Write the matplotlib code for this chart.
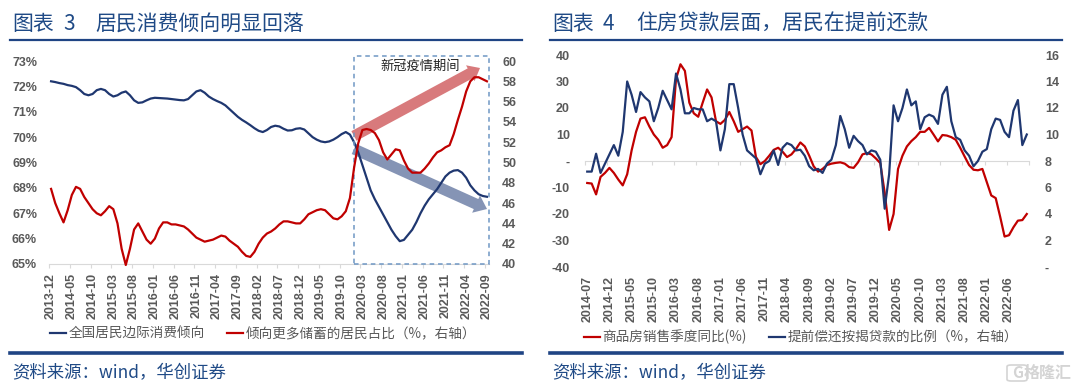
import matplotlib
matplotlib.use('Agg')
import matplotlib.pyplot as plt
from matplotlib.patches import FancyArrow, Rectangle, FancyBboxPatch
from matplotlib.transforms import IdentityTransform
from matplotlib.lines import Line2D

plt.rcParams['font.family'] = ['Noto Sans CJK SC', 'DejaVu Sans']

W, H = 1080, 389
NAVY = '#1F3770'
RED = '#C00000'
GREY = '#595959'
TITLE = '#1F4A86'

# left chart, monthly 2013-12 .. 2022-09
consume = [72.2, 72.17, 72.13, 72.1, 72.05, 72.02, 71.97, 71.85, 71.7, 71.65,
           71.7, 71.85, 71.9, 71.85, 71.7, 71.6, 71.65, 71.75, 71.8, 71.65,
           71.45, 71.35, 71.37, 71.45, 71.52, 71.55, 71.54, 71.53, 71.52, 71.5,
           71.48, 71.46, 71.45, 71.5, 71.65, 71.8, 71.85, 71.75, 71.6, 71.5,
           71.42, 71.35, 71.25, 71.1, 70.95, 70.8, 70.68, 70.58, 70.47, 70.35,
           70.25, 70.2, 70.28, 70.4, 70.45, 70.42, 70.33, 70.26, 70.27, 70.33,
           70.35, 70.3, 70.15, 70.0, 69.9, 69.83, 69.8, 69.83, 69.9, 70.0,
           70.12, 70.2, 70.1, 69.8, 69.4, 68.9, 68.4, 67.9, 67.55, 67.25,
           66.95, 66.65, 66.35, 66.1, 65.9, 65.95, 66.15, 66.35, 66.65, 67.0,
           67.3, 67.55, 67.75, 67.95, 68.2, 68.45, 68.6, 68.68, 68.7, 68.6,
           68.4, 68.1, 67.9, 67.75, 67.68, 67.65]
savers = [47.4, 46, 45, 44.1, 45.3, 46.8, 47.6, 47.4, 46.6, 46,
          45.4, 45, 44.8, 45.2, 45.7, 45.4, 44, 41.5, 39.9, 41.5,
          43.4, 44, 43.2, 42.4, 42, 42.5, 43.5, 44.1, 44.1, 43.9,
          43.9, 43.8, 43.7, 43.4, 43, 42.6, 42.4, 42.2, 42.3, 42.4,
          42.6, 42.8, 42.7, 42.3, 42, 41.7, 41.2, 40.8, 40.7, 41.2,
          42, 42.6, 43, 43.2, 43.5, 43.9, 44.2, 44.2, 44.1, 44,
          44, 44.4, 44.9, 45.1, 45.3, 45.4, 45.3, 44.9, 44.5, 44.4,
          44.7, 45.2, 46.5, 49.5, 51.9, 53.2, 53.3, 53.2, 52.9, 52.2,
          51, 50.3, 50.8, 51.3, 51.2, 50.2, 49.4, 49, 49, 49,
          49.4, 49.9, 50.5, 51, 51.2, 51.5, 51.7, 52.8, 54.2, 55.5,
          57, 58, 58.4, 58.4, 58.2, 58]
left_dates = ['2013-12', '2014-05', '2014-10', '2015-03', '2015-08', '2016-01',
              '2016-06', '2016-11', '2017-04', '2017-09', '2018-02', '2018-07',
              '2018-12', '2019-05', '2019-10', '2020-03', '2020-08', '2021-01',
              '2021-06', '2021-11', '2022-04', '2022-09']
left_yticks = [65, 66, 67, 68, 69, 70, 71, 72, 73]
left_ylabels = ['65%', '66%', '67%', '68%', '69%', '70%', '71%', '72%', '73%']
left_y2ticks = [40, 42, 44, 46, 48, 50, 52, 54, 56, 58, 60]

# right chart, monthly 2014-07 .. 2022-10
sales = [-8.3, -8.5, -12.6, -6, -4.5, -2.6, -4.5, -7, -9.2, -5,
         4, 11, 16, 16.5, 13, 10, 8, 5, 6, 9,
         31, 36.5, 34, 22, 18, 16.7, 22, 27, 24, 15,
         14, 15.5, 18.5, 15, 11, 12, 13, 11.5, 1.5, -1.2,
         0, 2, 4.2, 5, 3.5, 1.5, 2.5, 4.5, 7, 5.5,
         2, -2, -4, -3, -1.5, -1, -0.7, -0.5, -1, -2.3,
         -2.6, -0.5, 2.5, 3, 2.5, 1, -0.8, -12, -26, -20,
         -3, 2, 5.5, 7.5, 9, 11, 11, 12.5, 10, 7.4,
         9.8, 9.6, 9, 8, 5, 1.7, -1.5, -3.3, -3.5, -3,
         -8, -13, -14, -21, -28.5, -28, -25, -22.5, -22.3, -20]
prepay = [7.2, 7.2, 8.55, 7.1, 7.8, 8.5, 9.2, 8.4, 10.2, 14,
          13, 11.7, 13.2, 12.8, 12.5, 11, 12, 13.3, 12.6, 11.9,
          14.6, 13.4, 11.6, 11.6, 12, 11.9, 11.9, 11, 11.2, 11,
          8.8, 10.4, 13.8, 13.8, 12, 10, 8.8, 8.5, 8.2, 7,
          7.8, 8, 8.8, 7.7, 9, 9.35, 9.2, 8.8, 8.85, 8.4,
          7.6, 7.3, 7.4, 7.1, 7.8, 8.1, 9.2, 11.4, 10.4, 9,
          9.9, 9.5, 9.2, 8.5, 8.8, 8.7, 8.1, 4.4, 7, 12.2,
          11, 12, 13.4, 12.2, 12.5, 10.4, 11.3, 11.5, 11.35, 10.8,
          13, 13.6, 11, 9.8, 9.6, 8.8, 8.4, 7.6, 8, 8.7,
          8.9, 10.4, 11.2, 11.1, 10.2, 9.8, 11.8, 12.6, 9.2, 10]
right_dates = ['2014-07', '2014-12', '2015-05', '2015-10', '2016-03', '2016-08',
               '2017-01', '2017-06', '2017-11', '2018-04', '2018-09', '2019-02',
               '2019-07', '2019-12', '2020-05', '2020-10', '2021-03', '2021-08',
               '2022-01', '2022-06']
right_yticks = [-40, -30, -20, -10, 0, 10, 20, 30, 40]
right_ylabels = ['-40', '-30', '-20', '-10', '-', '10', '20', '30', '40']
right_y2ticks = [0, 2, 4, 6, 8, 10, 12, 14, 16]
right_y2labels = ['-', '2', '4', '6', '8', '10', '12', '14', '16']


def make_axes(fig, x0, x1, y0, y1):
	return fig.add_axes([x0 / W, 1 - y1 / H, (x1 - x0) / W, (y1 - y0) / H])


def style(ax, n, dates, pad):
	ax.set_xlim(-0.5, n - 0.5)
	ax.set_xticks([i * 5 - 0.5 for i in range(n // 5 + 1) if i * 5 - 0.5 <= n - 0.5])
	ax.set_xticklabels([])
	ax.set_xticks([i * 5 for i in range(len(dates))], minor=True)
	ax.set_xticklabels(dates, minor=True, rotation=90, fontsize=9, color=GREY,
		family='Liberation Sans', weight='bold')
	ax.tick_params(axis='x', which='major', length=3, color='#D9D9D9', width=0.8)
	ax.tick_params(axis='x', which='minor', length=0, pad=pad)


def ylabels(ax, ticks, labels, pad):
	ax.set_yticks(ticks)
	ax.set_yticklabels(labels, fontsize=9, color=GREY, family='Liberation Sans', weight='bold')
	ax.tick_params(axis='y', length=0, pad=pad)
	for s in ax.spines.values():
		s.set_visible(False)


def show_base(ax):
	ax.spines['bottom'].set_visible(True)
	ax.spines['bottom'].set_color('#D9D9D9')


def panel_furniture(fig, x0, x1, title_no, title, tx):
	fig.add_artist(Line2D([x0 / W, x1 / W], [1 - 40 / H] * 2, color='#1F4484', lw=1.6))
	fig.add_artist(Line2D([x0 / W, x1 / W], [1 - 353 / H] * 2, color='#1F4484', lw=2.6))
	fig.text((x0 + 2) / W, 1 - 24 / H, '图表', fontsize=15, color=TITLE, weight='medium', va='center')
	fig.text((x0 + 53) / W, 1 - 24 / H, title_no, fontsize=15, color=TITLE, weight='medium', va='center')
	fig.text(tx / W, 1 - 24 / H, title, fontsize=15, color=TITLE, weight='medium', va='center')
	fig.text((x0 + 2) / W, 1 - 373 / H, '资料来源：wind，华创证券', fontsize=12.5, color=TITLE, va='center')


fig = plt.figure(figsize=(W / 100, H / 100), dpi=100)

# left chart
ax1 = make_axes(fig, 49, 489, 61, 264)
ax1.set_ylim(65, 73)
style(ax1, len(consume), left_dates, 6.5)
ylabels(ax1, left_yticks, left_ylabels, 8.6)
show_base(ax1)
l1, = ax1.plot(range(len(consume)), consume, color=NAVY, lw=1.6, zorder=3, clip_on=False)
ax1b = ax1.twinx()
ax1b.set_ylim(40, 60)
ylabels(ax1b, left_y2ticks, [str(v) for v in left_y2ticks], 9.5)
l2, = ax1b.plot(range(len(savers)), savers, color=RED, lw=1.6, clip_on=False)

# covid box and the two trend arrows, placed in pixels
ax1.add_patch(Rectangle((354, H - 264), 135, 208, transform=IdentityTransform(), fill=False,
	ec='#6F97C4', ls=(0, (3, 2.5)), lw=1.1, clip_on=False, zorder=4))
ax1.add_patch(FancyArrow(354, H - 136, 126, 68, width=11, head_width=18, head_length=11,
	length_includes_head=True, transform=IdentityTransform(), color='#D87A7C', lw=0, clip_on=False, zorder=1))
ax1.add_patch(FancyArrow(354, H - 149, 133, -60, width=11, head_width=19, head_length=12,
	length_includes_head=True, transform=IdentityTransform(), color='#8594B5', lw=0, clip_on=False, zorder=1))
fig.text(420 / W, 1 - 66 / H, '新冠疫情期间', fontsize=9.5, color='#222222', ha='center', va='center', weight='medium')

fig.legend([l1, l2], ['全国居民边际消费倾向', '倾向更多储蓄的居民占比（%，右轴）'],
	loc='center', bbox_to_anchor=(263 / W, 1 - 334 / H), ncol=2, frameon=False, fontsize=9.8,
	labelcolor=GREY, handlelength=1.2, handletextpad=0.2, columnspacing=1.6)

# right chart
ax2 = make_axes(fig, 585, 1029, 55, 267)
ax2.set_ylim(-40, 40)
ax2.spines['bottom'].set_position(('data', 0))
style(ax2, len(sales), right_dates, 83)
ylabels(ax2, right_yticks, right_ylabels, 10.8)
show_base(ax2)
l3, = ax2.plot(range(len(sales)), sales, color=RED, lw=1.6, zorder=3)
ax2b = ax2.twinx()
ax2b.set_ylim(0, 16)
ylabels(ax2b, right_y2ticks, right_y2labels, 11.5)
l4, = ax2b.plot(range(len(prepay)), prepay, color=NAVY, lw=1.6)

fig.legend([l3, l4], ['商品房销售季度同比(%)', '提前偿还按揭贷款的比例（%，右轴）'],
	loc='center', bbox_to_anchor=(801 / W, 1 - 337 / H), ncol=2, frameon=False, fontsize=9.8,
	labelcolor=GREY, handlelength=1.2, handletextpad=0.2, columnspacing=1.6)

panel_furniture(fig, 10, 522, '3', '居民消费倾向明显回落', 95)
panel_furniture(fig, 550, 1062, '4', '住房贷款层面，居民在提前还款', 636)

# watermark, bottom right
fig.text(1048 / W, 1 - 373 / H, '格隆汇', fontsize=11.5, color='#D4D4D4', ha='center', va='center', weight='bold')
fig.text(1018 / W, 1 - 373 / H, 'G', fontsize=11, color='#D4D4D4', ha='center', va='center', weight='bold')
fig.add_artist(FancyBboxPatch((1007 / W, 1 - 381 / H), 20 / W, 16 / H, boxstyle='round,pad=0,rounding_size=0.004',
	transform=fig.transFigure, fill=False, ec='#D4D4D4', lw=1.2))

fig.savefig('out.png', dpi=100)
